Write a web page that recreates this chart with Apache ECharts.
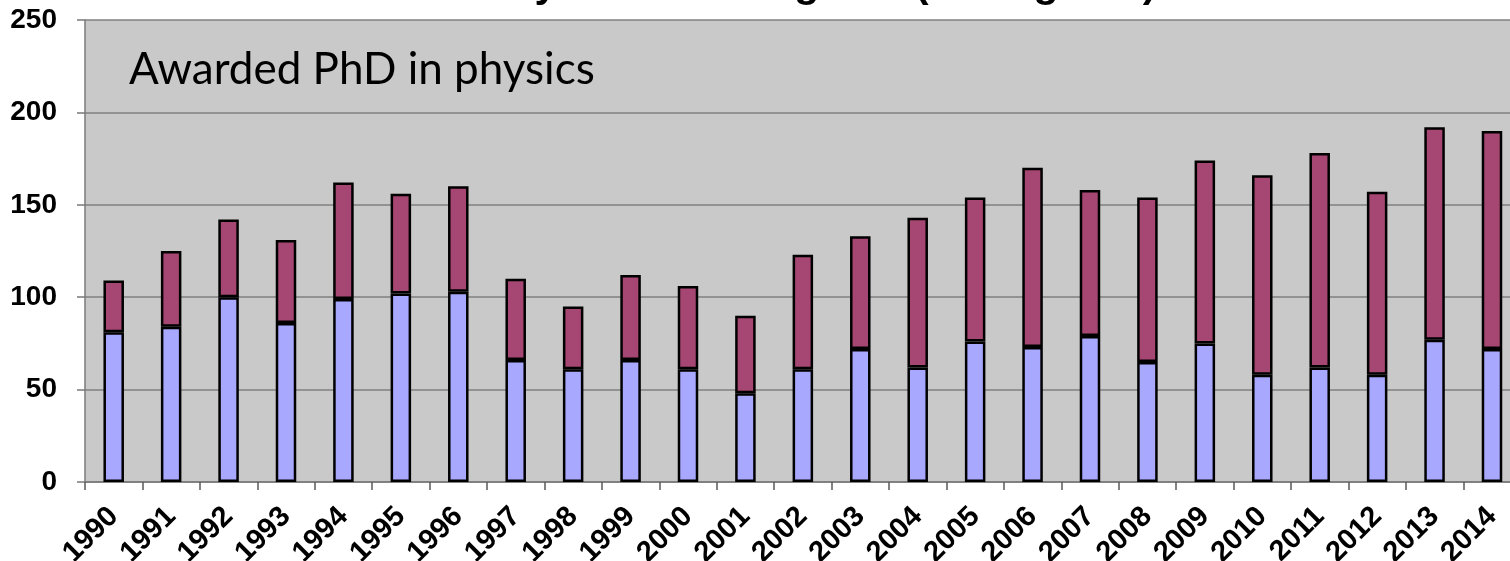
<!DOCTYPE html>
<html>
<head>
<meta charset="utf-8">
<script src="https://cdn.jsdelivr.net/npm/echarts@6/dist/echarts.min.js"></script>
<style>
  html, body { margin: 0; padding: 0; background: #ffffff; }
  #chart { width: 1510px; height: 561px; }
</style>
</head>
<body>
<div id="chart"></div>
<script>
// Years on the category axis
const years = ['1990','1991','1992','1993','1994','1995','1996','1997','1998','1999',
               '2000','2001','2002','2003','2004','2005','2006','2007','2008','2009',
               '2010','2011','2012','2013','2014'];

// Lower (blue) segment of each stacked bar
const lowerSeries = [81, 84, 100, 86, 99, 102, 103, 66, 61, 66,
                     61, 48, 61, 72, 62, 76, 73, 79, 65, 75,
                     58, 62, 58, 77, 72];

// Upper (maroon) segment of each stacked bar
const upperSeries = [28, 41, 42, 45, 63, 54, 57, 44, 34, 46,
                     45, 42, 62, 61, 81, 78, 97, 79, 89, 99,
                     108, 116, 99, 115, 118];

// Value axis ticks
const yMin = 0, yMax = 250, yStep = 50;

const titleText = 'Physics PhD Degrees (all degrees)';
const noteText = 'Awarded PhD in physics';

const chart = echarts.init(document.getElementById('chart'), null, { renderer: 'canvas' });

const barBorder = { borderColor: '#000000', borderWidth: 2.5 };

chart.setOption({
  animation: false,
  backgroundColor: '#ffffff',
  grid: {
    left: 85, right: -10.7, top: 20, bottom: 79,
    outerBoundsMode: 'none', containLabel: false,
    show: true, backgroundColor: '#C9C9C9', borderWidth: 0
  },
  xAxis: {
    type: 'category',
    data: years,
    boundaryGap: true,
    axisLine: { show: true, lineStyle: { color: '#7a7a7a', width: 1.5 } },
    axisTick: { show: true, inside: false, length: 8, lineStyle: { color: '#5a5a5a', width: 1.5 } },
    axisLabel: {
      rotate: 45, margin: 30, interval: 0, verticalAlign: 'middle',
      color: '#000000', fontFamily: 'Liberation Sans', fontWeight: 'bold', fontSize: 29
    },
    splitLine: { show: false }
  },
  yAxis: {
    type: 'value',
    min: yMin, max: yMax, interval: yStep,
    axisLine: { show: true, lineStyle: { color: '#7a7a7a', width: 1.5 } },
    axisTick: { show: true, inside: false, length: 8, lineStyle: { color: '#7a7a7a', width: 1.5 } },
    axisLabel: {
      margin: 28, color: '#000000', fontFamily: 'Liberation Sans', fontWeight: 'bold', fontSize: 28
    },
    splitLine: { show: true, lineStyle: { color: '#7f7f7f', width: 1.5 } }
  },
  series: [
    {
      name: 'lower', type: 'bar', stack: 'phd', data: lowerSeries,
      barWidth: 20.5, itemStyle: Object.assign({ color: '#A8A8FF' }, barBorder)
    },
    {
      name: 'upper', type: 'bar', stack: 'phd', data: upperSeries,
      barWidth: 20.5, itemStyle: Object.assign({ color: '#A64672' }, barBorder)
    }
  ],
  graphic: [
    {
      type: 'text', x: 482, y: 6, silent: true,
      style: {
        text: titleText, fill: '#000000', font: 'bold 41px "Liberation Sans"',
        verticalAlign: 'bottom'
      }
    },
    {
      type: 'text', left: 129, top: 48, silent: true,
      style: { text: noteText, fill: '#000000', font: '44px Lato' }
    }
  ]
});
</script>
</body>
</html>
